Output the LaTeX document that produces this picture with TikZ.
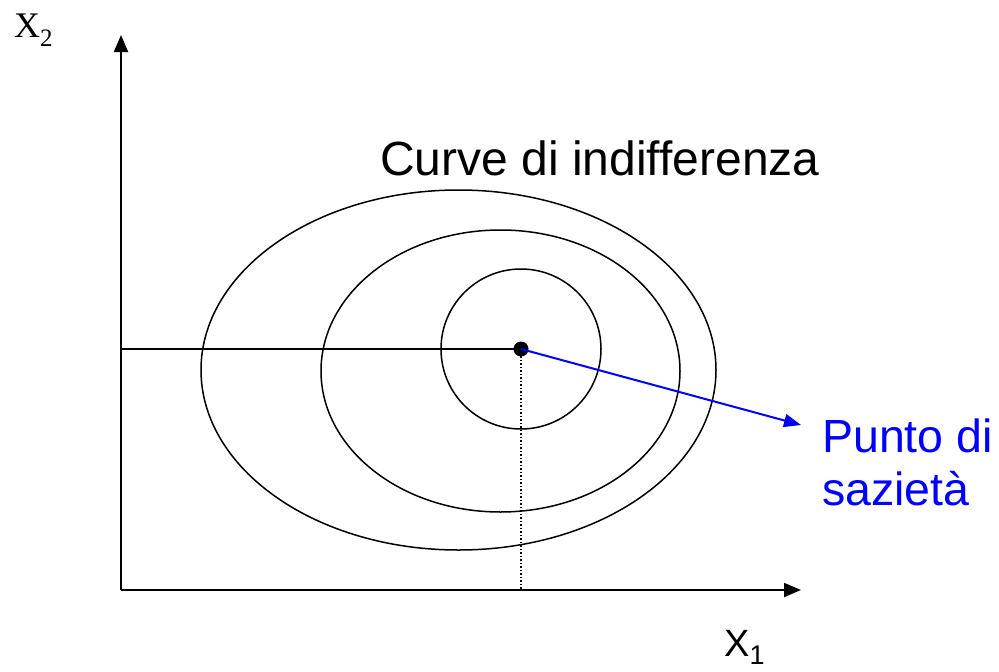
\documentclass[tikz,border=0pt]{standalone}
\usepackage{fontspec}
\setmainfont{Liberation Sans}
\newfontfamily\timesf{Liberation Serif}
\usetikzlibrary{arrows.meta}
\begin{document}
\begin{tikzpicture}[x=1pt,y=-1pt,
  axis/.style={line width=2pt,-{Triangle[length=17pt,width=14pt]}},
  curve/.style={line width=1.5pt},
  lbl/.style={font=\fontsize{48}{54}\selectfont,inner sep=0pt},
  bluelbl/.style={font=\fontsize{46.5}{54}\selectfont,inner sep=0pt,blue},
  bluearrow/.style={blue,line width=2pt,-{Triangle[length=17pt,width=13pt]}}]
\useasboundingbox (0,0) rectangle (999,672);
\coordinate (O) at (121,590);
\coordinate (ytip) at (121,35);
\coordinate (xtip) at (801,590);
\draw[axis] (O) -- (ytip);
\draw[axis] (O) -- (xtip);
\draw[curve] (458.5,370) ellipse [x radius=257.5, y radius=180];
\draw[curve] (500.5,371) ellipse [x radius=179.5, y radius=141];
\draw[curve] (521,349) circle [radius=80];
\coordinate (yleft) at (121,349);
\node[circle,fill=black,inner sep=0pt,minimum size=15pt] (pt) at (521,349) {};
\coordinate (xfoot) at (521,590);
\draw[line width=1.5pt] (yleft) -- (pt.center);
\draw[line width=1.5pt,dotted] (pt.center) -- (xfoot);
\coordinate (atip) at (801,425);
\draw[bluearrow] (pt.center) -- (atip);
\node[lbl,anchor=base west] (title) at (380,175) {Curve di indifferenza};
\node[bluelbl,anchor=base west] (punto) at (822,452) {Punto di};
\node[bluelbl,anchor=base west] (sazieta) at (822,505) {sazietà};
\node[inner sep=0pt,anchor=base west,font=\fontsize{38}{40}\selectfont] (x1) at (724,656) {X\raisebox{-8pt}{\fontsize{27}{27}\selectfont 1}};
\node[inner sep=0pt,anchor=base west,font=\timesf\fontsize{36}{40}\selectfont] (x2) at (14,37) {X\raisebox{-9pt}{\fontsize{25}{25}\selectfont 2}};
\end{tikzpicture}
\end{document}
